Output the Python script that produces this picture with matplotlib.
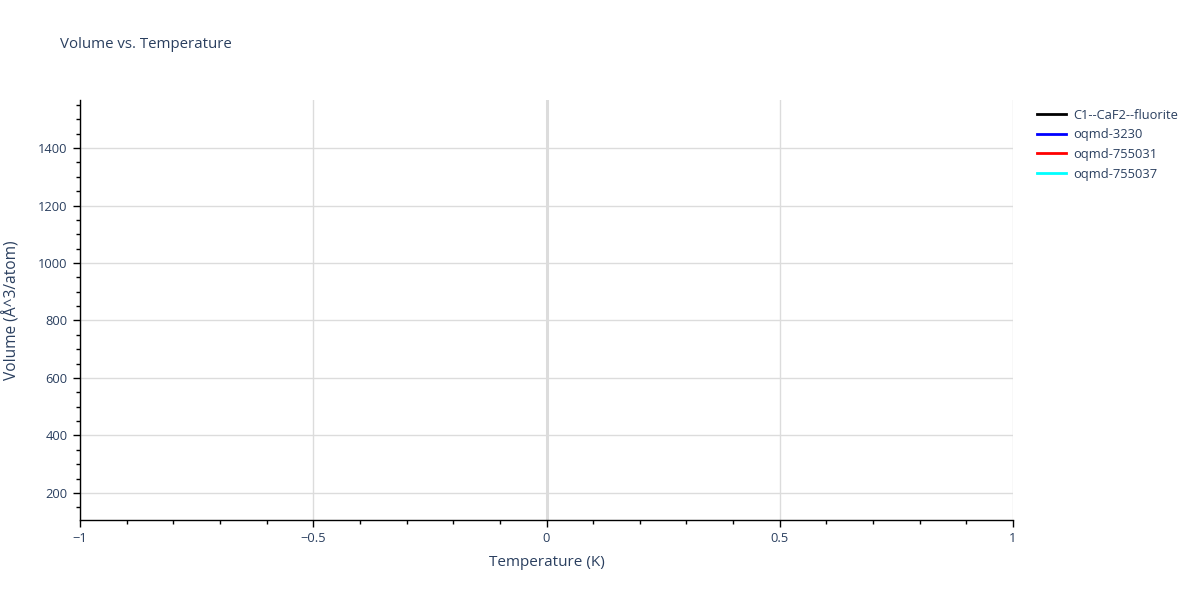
import matplotlib
matplotlib.use("Agg")
import matplotlib.pyplot as plt
from matplotlib.ticker import MultipleLocator

plt.rcParams['font.family'] = ['Open Sans', 'DejaVu Sans']

series_names = ["C1--CaF2--fluorite", "oqmd-3230", "oqmd-755031", "oqmd-755037"]
series_colors = ["black", "blue", "red", "cyan"]
temperatures = [0.0]
volumes = {
    "C1--CaF2--fluorite": [180.0],
    "oqmd-3230": [1490.0],
    "oqmd-755031": [600.0],
    "oqmd-755037": [900.0],
}
x_range = (-1, 1)
y_range = (106, 1567)

txt = '#2a3f5f'
grid = '#dcdcdc'

fig = plt.figure(figsize=(12, 6), dpi=100)
ax = fig.add_axes([80/1200, 80/600, (1013-80)/1200, 420/600])

handles = []
for name, col in zip(series_names, series_colors):
    h, = ax.plot(temperatures, volumes[name], color=col, lw=2, label=name)
    handles.append(h)

ax.set_xlim(*x_range)
ax.set_ylim(*y_range)
ax.xaxis.set_minor_locator(MultipleLocator(0.1))
ax.yaxis.set_major_locator(MultipleLocator(200))
ax.yaxis.set_minor_locator(MultipleLocator(50))
ax.set_xticks([-1, -0.5, 0, 0.5, 1])
ax.set_xticklabels(['\u22121', '\u22120.5', '0', '0.5', '1'])

ax.grid(True, which='major', color=grid, lw=1)
ax.axvline(0, color=grid, lw=2.2, zorder=0.5)
ax.set_axisbelow(True)

for s in ['top', 'right']:
    ax.spines[s].set_visible(False)
for s in ['left', 'bottom']:
    ax.spines[s].set_color('black')
    ax.spines[s].set_linewidth(1)

ax.tick_params(which='major', direction='out', length=5, width=1, color='black',
               labelsize=9.3, labelcolor=txt, pad=4)
ax.tick_params(which='minor', direction='out', length=3, width=1, color='black')

ax.set_xlabel('Temperature (K)', fontsize=11, color=txt)
ax.set_ylabel('Volume (Å^3/atom)', fontsize=11.2, color=txt)
ax.xaxis.set_label_coords(0.5, (520 - 563) / 420, transform=ax.transAxes)
ax.xaxis.label.set_va('center')
ax.yaxis.set_label_coords((12 - 80) / 933, 0.5, transform=ax.transAxes)
ax.yaxis.label.set_va('center')

fig.text(60/1200, 1 - 45/600, 'Volume vs. Temperature', fontsize=10.8, color=txt,
         ha='left', va='center')

fig.legend(handles=handles, loc='upper left', bbox_to_anchor=(1034/1200, 1 - 106/600),
           frameon=False, fontsize=9.3, labelcolor=txt, handlelength=2.3,
           handletextpad=0.5, labelspacing=0.52, borderaxespad=0, borderpad=0.2)

fig.savefig('out.png', dpi=100)
